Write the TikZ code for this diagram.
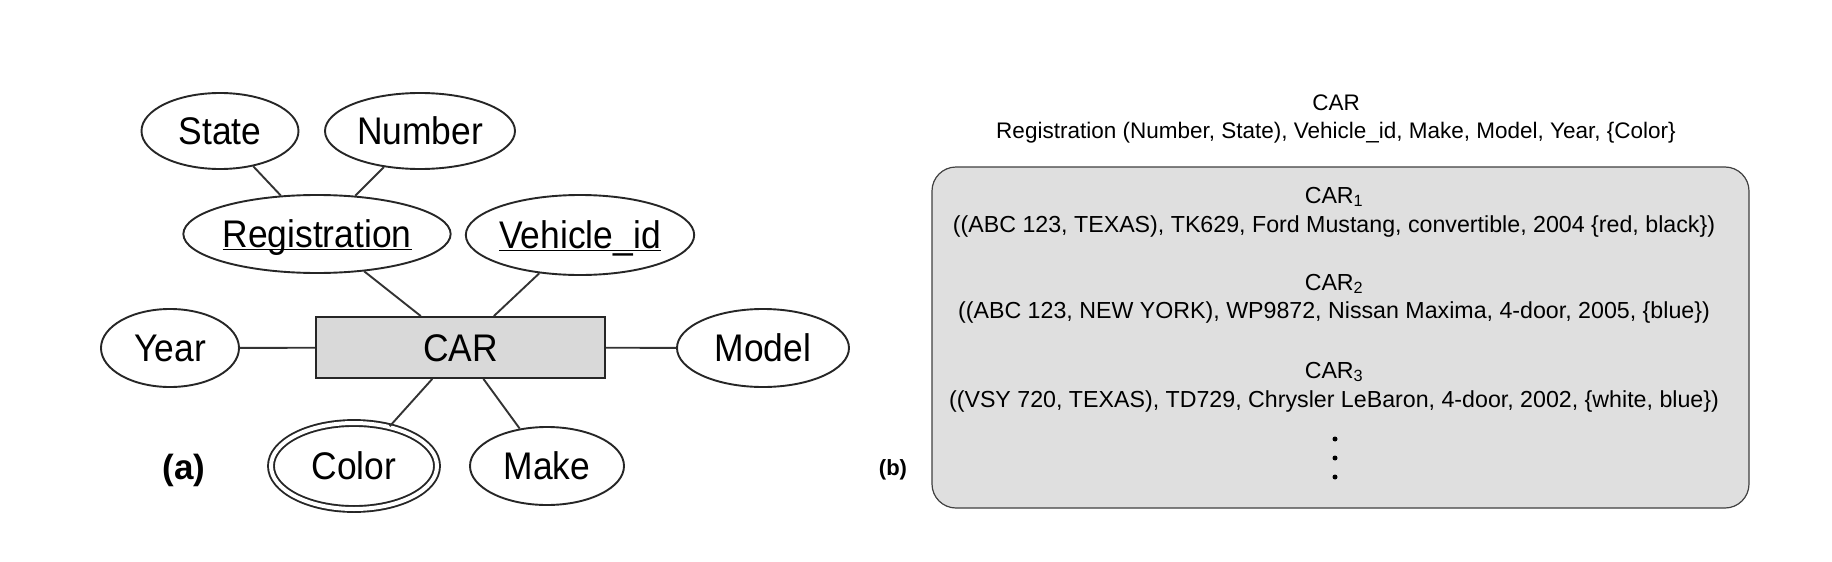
\documentclass[tikz,border=0pt]{standalone}
\usepackage{fontspec}
\setmainfont{Liberation Sans}
\newfontfamily\erfont[FakeStretch=0.92]{Liberation Sans}
\usetikzlibrary{shapes.geometric}
\begin{document}
\begin{tikzpicture}[x=1pt,y=-1pt,
  attr/.style={ellipse, draw=black!85, line width=1.9pt, inner sep=0pt,
    text height=27pt, text depth=0pt, font=\erfont\fontsize{38.5}{42}\selectfont},
  ent/.style={rectangle, draw=black!85, fill=gray!30, line width=1.9pt, inner sep=0pt,
    text height=27pt, text depth=0pt, font=\erfont\fontsize{38.5}{42}\selectfont},
  conn/.style={draw=black!80, line width=1.9pt},
  rtext/.style={anchor=base, inner sep=0pt, font=\fontsize{23.2}{26}\selectfont},
  ttext/.style={anchor=base, inner sep=0pt, font=\fontsize{22.5}{26}\selectfont},
  lbl/.style={inner sep=0pt, font=\bfseries\fontsize{#1}{#1}\selectfont},
  dotmark/.style={circle, fill=black, inner sep=0pt, minimum size=5pt}]
\useasboundingbox[fill=white] (0,0) rectangle (1832,562);
% (a) ER diagram
\node[attr, minimum width=157, minimum height=76] (state) at (220,131) {State};
\node[attr, minimum width=190, minimum height=76] (number) at (420,131) {Number};
\node[attr, minimum width=258, minimum height=78] (reg) at (317,234) {\underline{\smash{Registration}}};
\node[attr, minimum width=226, minimum height=80] (vid) at (580,235) {\underline{\smash{Vehicle\_id}}};
\node[ent, minimum width=289, minimum height=61] (car) at (460.5,347.5) {CAR};
\node[attr, minimum width=138, minimum height=78] (year) at (170,348) {Year};
\node[attr, minimum width=172, minimum height=78] (model) at (763,348) {Model};
\node[attr, double, double distance=4pt, minimum width=166, minimum height=86] (color) at (354,466) {Color};
\node[attr, minimum width=154, minimum height=78] (make) at (547,466) {Make};
\node[lbl=35] (la) at (184,470) {(a)};
\draw[conn] (state) -- (reg);
\draw[conn] (number) -- (reg);
\draw[conn] (reg) -- (car);
\draw[conn] (vid) -- (car);
\draw[conn] (year) -- (car);
\draw[conn] (car) -- (model);
\draw[conn] (car) -- (color);
\draw[conn] (car) -- (make);
% (b)
\node[ttext] (t0) at (1336,110) {CAR};
\node[ttext] (t1) at (1336,138) {Registration (Number, State), Vehicle\_id, Make, Model, Year, \{Color\}};
\node[draw=black!75, line width=1.2pt, fill=gray!25, rounded corners=24pt, minimum width=817, minimum height=341, inner sep=0pt] (box) at (1340.5,337.5) {};
\node[rtext] (c1) at (1334,203) {CAR\textsubscript{1}};
\node[rtext] (r1) at (1334,232) {((ABC 123, TEXAS), TK629, Ford Mustang, convertible, 2004 \{red, black\})};
\node[rtext] (c2) at (1334,290) {CAR\textsubscript{2}};
\node[rtext] (r2) at (1334,318) {((ABC 123, NEW YORK), WP9872, Nissan Maxima, 4-door, 2005, \{blue\})};
\node[rtext] (c3) at (1334,378) {CAR\textsubscript{3}};
\node[rtext] (r3) at (1334,407) {((VSY 720, TEXAS), TD729, Chrysler LeBaron, 4-door, 2002, \{white, blue\})};
\node[dotmark] (d1) at (1335,439) {};
\node[dotmark] (d2) at (1335,458) {};
\node[dotmark] (d3) at (1335,477) {};
\node[lbl=22] (lb) at (893,470) {(b)};
\end{tikzpicture}
\end{document}
